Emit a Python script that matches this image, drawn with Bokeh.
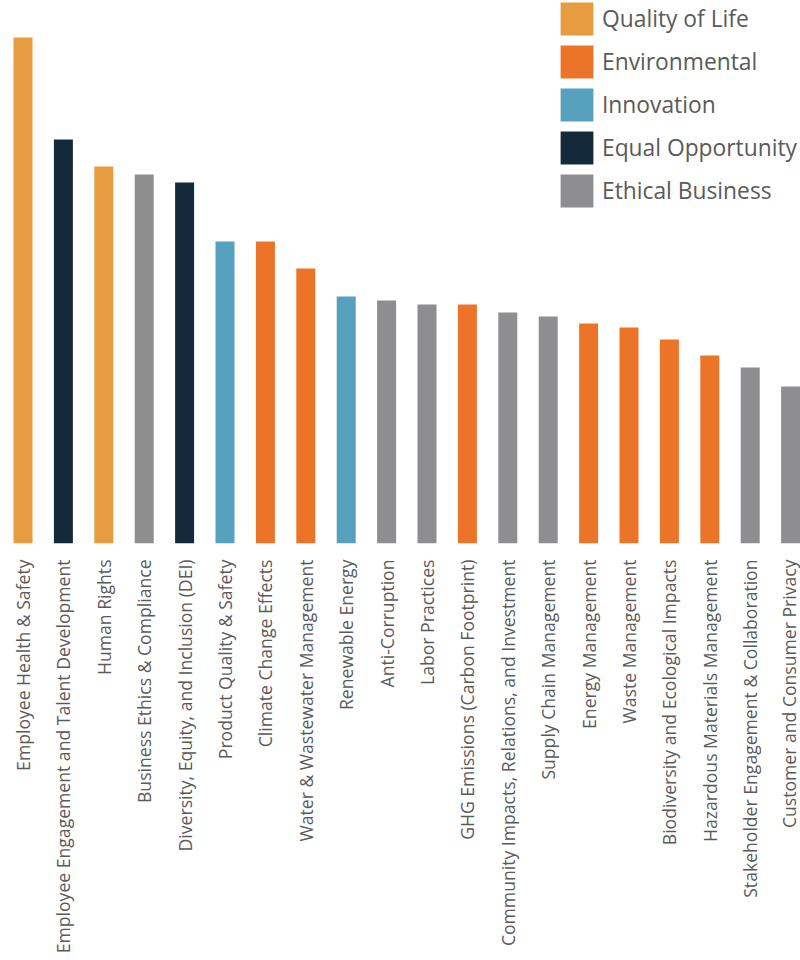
from bokeh.plotting import figure
from bokeh.models import Range1d, FixedTicker, Legend, LegendItem
from bokeh.embed import file_html
from bokeh.resources import INLINE
import math

categories = [
    "Employee Health & Safety",
    "Employee Engagement and Talent Development",
    "Human Rights",
    "Business Ethics & Compliance",
    "Diversity, Equity, and Inclusion (DEI)",
    "Product Quality & Safety",
    "Climate Change Effects",
    "Water & Wastewater Management",
    "Renewable Energy",
    "Anti-Corruption",
    "Labor Practices",
    "GHG Emissions (Carbon Footprint)",
    "Community Impacts, Relations, and Investment",
    "Supply Chain Management",
    "Energy Management",
    "Waste Management",
    "Biodiversity and Ecological Impacts",
    "Hazardous Materials Management",
    "Stakeholder Engagement & Collaboration",
    "Customer and Consumer Privacy",
]
values = [50.6, 40.4, 37.7, 36.9, 36.1, 30.2, 30.2, 27.5, 24.7, 24.3,
          23.9, 23.9, 23.1, 22.7, 22.0, 21.6, 20.4, 18.8, 17.6, 15.7]
groups = [
    "Quality of Life", "Equal Opportunity", "Quality of Life", "Ethical Business",
    "Equal Opportunity", "Innovation", "Environmental", "Environmental",
    "Innovation", "Ethical Business", "Ethical Business", "Environmental",
    "Ethical Business", "Ethical Business", "Environmental", "Environmental",
    "Environmental", "Environmental", "Ethical Business", "Ethical Business",
]
legend_order = ["Quality of Life", "Environmental", "Innovation",
                "Equal Opportunity", "Ethical Business"]
group_colors = {
    "Quality of Life": "#E89C40",
    "Environmental": "#EC7428",
    "Innovation": "#55A1BE",
    "Equal Opportunity": "#142A3A",
    "Ethical Business": "#8E8E90",
}

FONT = "Open Sans"
TEXT = "#5A5A5A"

p = figure(
    frame_width=800, frame_height=543,
    x_range=Range1d(-0.557, 19.245), y_range=Range1d(0, 54.3),
    output_backend="svg", toolbar_location=None,
    min_border_left=0, min_border_right=0, min_border_top=0, min_border_bottom=0,
)
p.outline_line_color = None
p.xgrid.grid_line_color = None
p.ygrid.grid_line_color = None
p.yaxis.visible = False

renderers = {}
for g in legend_order:
    xs = [i for i, gg in enumerate(groups) if gg == g]
    tops = [values[i] for i in xs]
    r = p.vbar(x=xs, top=tops, bottom=0, width=0.47,
               fill_color=group_colors[g], line_color=None)
    renderers[g] = r

ax = p.xaxis[0]
ax.ticker = FixedTicker(ticks=list(range(len(categories))))
ax.major_label_overrides = {i: c for i, c in enumerate(categories)}
ax.major_label_orientation = math.pi / 2
ax.axis_line_color = None
ax.major_tick_line_color = None
ax.minor_tick_line_color = None
ax.major_label_standoff = 10
ax.major_label_text_font = FONT
ax.major_label_text_font_size = "17.6px"
ax.major_label_text_color = TEXT

legend = Legend(
    items=[LegendItem(label=g, renderers=[renderers[g]]) for g in legend_order],
    location=(556, 332),
    glyph_width=41, glyph_height=41,
    label_text_font=FONT, label_text_font_size="22.8px", label_text_color=TEXT,
    label_standoff=5, spacing=2, padding=0, margin=0,
    border_line_color=None, background_fill_alpha=0,
    label_height=41,
)
p.add_layout(legend)

open("out.html", "w").write(file_html(p, INLINE))
